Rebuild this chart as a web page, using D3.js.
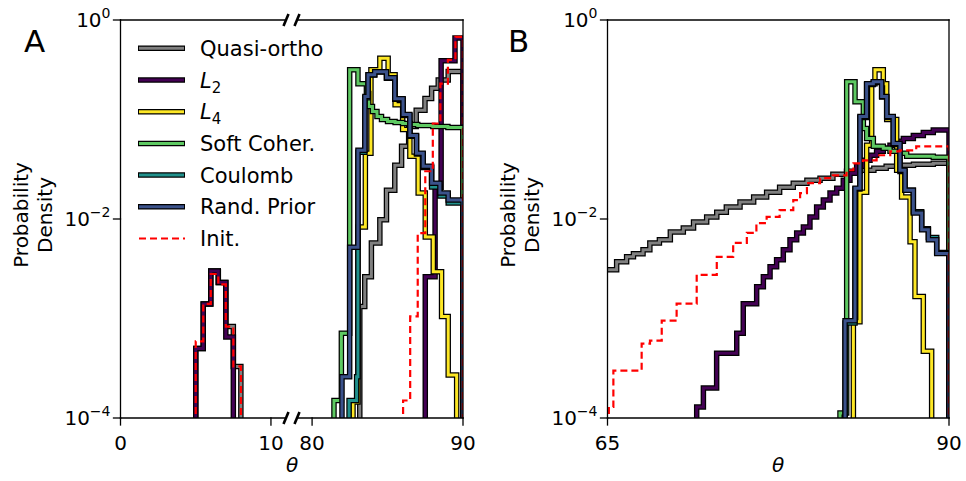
<!DOCTYPE html>
<html><head><meta charset="utf-8">
<script src="https://cdn.jsdelivr.net/npm/d3@7"></script>
<style>body{margin:0;background:#fff}svg{display:block}text{font-family:"DejaVu Sans",sans-serif;fill:#000}</style>
</head><body><svg id="c" width="966" height="481"></svg>
<script>
// ---------------- DATA ----------------
const seriesNames = ["Quasi-ortho","L2","L4","Soft Coher.","Coulomb","Rand. Prior","Init."];
const yTicks = [1, 1e-2, 1e-4];
const yTickExp = ["0","\u22122","\u22124"];
const xTicksAL = [0, 10];
const xTicksAR = [80, 90];
const xTicksB = [65, 90];

// Panel A, left part (theta 0..11)
const edgesAL = [5.0,5.5,6.0,6.5,7.0,7.5,8.0];
const quasiAL = [5.0e-4,1.4e-3,3.0e-3,2.3e-3,8.3e-4,3.3e-4];
const l2AL    = [5.0e-4,1.4e-3,3.0e-3,2.3e-3,6.5e-4,0];
const initAL  = [5.9e-4,1.4e-3,2.8e-3,2.2e-3,8.3e-4,3.3e-4];

// Panel A, right part (theta 79..90)
const quasiAR_e = [83.16,83.49,83.93,84.49,84.93,85.48,85.93,86.4,86.9,87.48,87.92,88.36,89.02,90];
const quasiAR_v = [1.32e-3,2.63e-3,5.75e-3,9.8e-3,0.0195,0.0347,0.0537,0.0851,0.124,0.163,0.206,0.249,0.303];
const l2AR_e = [87.5,88.15,88.55,89.47,90];
const l2AR_v = [2.63e-3,0.0209,0.39,0.66];
const l4AR_e = [82.71,83.04,83.53,83.9,84.49,85.04,85.5,86.0,86.48,87.03,87.5,88.03,88.58,89.02,89.58];
const l4AR_v = [1.45e-4,8.3e-3,0.0457,0.316,0.412,0.282,0.141,0.0794,0.0427,0.0182,6.6e-3,2.95e-3,1.05e-3,2.7e-4];
const softAR_e = [81.45,81.94,82.49,83.04,83.6,83.75,84.0,84.3,84.6,85.0,85.5,86,86.5,87,87.5,88,88.5,89,89.5,90];
const softAR_v = [1.5e-4,7.1e-4,0.316,0.229,0.182,0.135,0.120,0.107,0.1,0.0955,0.0933,0.0912,0.0891,0.087,0.087,0.0851,0.0851,0.0832,0.0832];
const coulAR_e = [82.45,82.95,83.04,83.5,83.71,84.15,84.93,85.48,86.03,86.48,86.92,87.36,87.92,88.47,89.02,90];
const coulAR_v = [1.5e-4,2.6e-4,0.047,0.165,0.28,0.30,0.26,0.16,0.11,0.068,0.045,0.033,0.021,0.017,0.0145];
const randAR_e = [81.98,82.49,83.04,83.5,83.71,84.15,84.93,85.48,86.03,86.48,86.92,87.36,87.92,88.47,89.02,90];
const randAR_v = [2.6e-4,5.2e-3,0.049,0.170,0.282,0.302,0.263,0.162,0.112,0.0692,0.0457,0.0339,0.0229,0.0182,0.0155];
const initAR_e = [86.03,86.5,87.0,87.5,88.0,88.5,89.0,89.5,90];
const initAR_v = [1.5e-4,1.05e-3,7.2e-3,0.0302,0.0912,0.229,0.398,0.676];

// Panel B (theta 65..90)
const quasiB_e = [64.5,65.67,66.4,66.9,67.6,68.1,68.8,69.6,70.55,71.3,72.26,73.0,73.7,74.7,75.7,76.65,77.6,78.6,79.6,80.56,81.5,82.5,83.5,84.5,85.4,86.4,87.4,88.85,90];
const quasiB_v = [3.09e-3,3.72e-3,4.17e-3,4.47e-3,4.9e-3,5.75e-3,6.17e-3,7.41e-3,8.13e-3,9.33e-3,0.0105,0.0117,0.0132,0.0148,0.0166,0.0186,0.0209,0.0229,0.0245,0.0257,0.0282,0.0302,0.0309,0.0324,0.0339,0.0347,0.0355,0.0363];
const l2B_e = [71.53,72.02,72.99,74.46,74.94,75.92,76.41,76.9,77.38,77.87,78.36,78.85,79.34,79.82,80.31,80.8,81.29,81.78,82.26,82.75,83.24,83.73,84.22,84.7,85.19,85.68,86.17,86.66,87.39,88.12,88.85,90];
const l2B_v = [1.29e-4,2.0e-4,4.47e-4,7.1e-4,1.41e-3,2.09e-3,2.63e-3,3.31e-3,3.89e-3,4.9e-3,6.17e-3,7.24e-3,8.3e-3,0.0105,0.0132,0.0155,0.0182,0.0204,0.0245,0.0288,0.0339,0.0389,0.0437,0.0479,0.0513,0.055,0.0603,0.0646,0.0692,0.0741,0.0785];
const l4B_e = [83.0,83.48,83.97,84.34,84.58,85.19,85.44,86.17,86.53,87.15,87.51,88.12,88.73];
const l4B_v = [9.3e-4,0.0186,0.055,0.229,0.316,0.229,0.1,0.0309,0.0166,5.9e-3,1.66e-3,4.7e-4];
const softB_e = [82.02,82.51,83.12,83.73,83.97,84.46,85.19,85.68,86.41,86.9,88.85,90];
const softB_v = [1.12e-4,0.24,0.151,0.0813,0.0646,0.0537,0.0513,0.0479,0.0457,0.0427,0.0417];
const coulB_e = [82.39,83.12,83.48,83.97,84.46,85.07,85.44,85.92,86.41,86.78,87.39,88.0,88.49,89.1,90];
const coulB_v = [9.0e-4,0.02,0.105,0.225,0.236,0.168,0.105,0.056,0.030,0.0195,0.0118,8.0e-3,6.5e-3,4.6e-3];
const randB_e = [82.39,83.12,83.48,83.97,84.46,85.07,85.44,85.92,86.41,86.78,87.39,88.0,88.49,89.1,90];
const randB_v = [9.5e-4,0.0204,0.107,0.229,0.240,0.170,0.107,0.0575,0.0309,0.0195,0.0115,7.8e-3,6.2e-3,4.5e-3];
const initB_e = [65.1,65.43,67.5,68.11,68.97,70.06,71.53,73.0,74.2,75.2,75.9,76.65,77.6,78.6,79.1,79.6,80.56,81.5,82.5,83.0,83.7,84.7,85.7,86.4,87.6,88.85,90];
const initB_v = [1.29e-4,3.0e-4,5.6e-4,6.0e-4,9.5e-4,1.41e-3,2.75e-3,4.17e-3,5.75e-3,7.24e-3,9.1e-3,0.0105,0.0123,0.0155,0.0182,0.0229,0.0257,0.0275,0.0309,0.0363,0.0389,0.0437,0.0479,0.049,0.0537,0.0537];

// ---------------- STYLE ----------------
const colors = {"Quasi-ortho":"#808080","L2":"#440154","L4":"#fde725","Soft Coher.":"#5ec962","Coulomb":"#21918c","Rand. Prior":"#3b528b","Init.":"#ff0000"};

const svg = d3.select("#c");
const yTop = 20, yBot = 418;
const yS = d3.scaleLog().domain([1e-4,1]).range([yBot,yTop]);
const xAL = d3.scaleLinear().domain([0,11]).range([120.5,286]);
const xAR = d3.scaleLinear().domain([79,90]).range([297,463]);
const xB  = d3.scaleLinear().domain([65,90]).range([607.5,949]);

function clip(id, x0, x1){
  svg.append("clipPath").attr("id",id).append("rect")
    .attr("x",x0).attr("y",yTop).attr("width",x1-x0).attr("height",yBot-yTop);
}
clip("cAL",120.5,286); clip("cAR",297,463); clip("cB",607.5,949);

function stairPath(edges, vals, x){
  const base = 700, pts = [[x(edges[0]), base]];
  vals.forEach((v,i)=>{
    const y = v>0 ? yS(v) : base;
    pts.push([x(edges[i]),y],[x(edges[i+1]),y]);
  });
  pts.push([x(edges[edges.length-1]), base]);
  return d3.line()(pts);
}
function drawSeries(g, name, edges, vals, x){
  const d = stairPath(edges, vals, x);
  if(name==="Init."){
    g.append("path").attr("d",d).attr("fill","none").attr("stroke",colors[name])
      .attr("stroke-width",2.2).attr("stroke-dasharray","7,4");
  } else {
    g.append("path").attr("d",d).attr("fill","none").attr("stroke","#000")
      .attr("stroke-width",5.5).attr("stroke-linejoin","miter");
    g.append("path").attr("d",d).attr("fill","none").attr("stroke",colors[name])
      .attr("stroke-width",3).attr("stroke-linejoin","miter");
  }
}

// Panel A left
const gAL = svg.append("g").attr("clip-path","url(#cAL)");
drawSeries(gAL,"Quasi-ortho",edgesAL,quasiAL,xAL);
drawSeries(gAL,"L2",edgesAL,l2AL,xAL);
drawSeries(gAL,"Init.",edgesAL,initAL,xAL);
// Panel A right
const gAR = svg.append("g").attr("clip-path","url(#cAR)");
drawSeries(gAR,"Quasi-ortho",quasiAR_e,quasiAR_v,xAR);
drawSeries(gAR,"L2",l2AR_e,l2AR_v,xAR);
drawSeries(gAR,"L4",l4AR_e,l4AR_v,xAR);
drawSeries(gAR,"Soft Coher.",softAR_e,softAR_v,xAR);
drawSeries(gAR,"Coulomb",coulAR_e,coulAR_v,xAR);
drawSeries(gAR,"Rand. Prior",randAR_e,randAR_v,xAR);
drawSeries(gAR,"Init.",initAR_e,initAR_v,xAR);
// Panel B
const gB = svg.append("g").attr("clip-path","url(#cB)");
drawSeries(gB,"Quasi-ortho",quasiB_e,quasiB_v,xB);
drawSeries(gB,"L2",l2B_e,l2B_v,xB);
drawSeries(gB,"L4",l4B_e,l4B_v,xB);
drawSeries(gB,"Soft Coher.",softB_e,softB_v,xB);
drawSeries(gB,"Coulomb",coulB_e,coulB_v,xB);
drawSeries(gB,"Rand. Prior",randB_e,randB_v,xB);
drawSeries(gB,"Init.",initB_e,initB_v,xB);

// ---------------- AXES ----------------
const sw = 1.3;
function line(x1,y1,x2,y2,w){ svg.append("line").attr("x1",x1).attr("y1",y1).attr("x2",x2).attr("y2",y2).attr("stroke","#000").attr("stroke-width",w||sw).attr("stroke-linecap","square"); }
line(120.5,yTop,120.5,yBot); line(120.5,yTop,286,yTop); line(120.5,yBot,286,yBot);
line(297,yTop,463,yTop); line(297,yBot,463,yBot); line(463,yTop,463,yBot);
line(607.5,yTop,607.5,yBot); line(949,yTop,949,yBot); line(607.5,yTop,949,yTop); line(607.5,yBot,949,yBot);
[286,297].forEach(x=>[yTop,yBot].forEach(y=>{
  svg.append("line").attr("x1",x-2.5).attr("y1",y+6).attr("x2",x+2.5).attr("y2",y-6)
    .attr("stroke","#000").attr("stroke-width",2.6);
}));

function yAxis(x0){
  yTicks.forEach((t,i)=>{
    const y = yS(t);
    line(x0-7,y,x0,y);
    const tx = svg.append("text").attr("x",x0-10).attr("y",y+7).attr("text-anchor","end").attr("font-size",20);
    tx.append("tspan").text("10");
    tx.append("tspan").attr("dy",-9).attr("font-size",14).text(yTickExp[i]);
  });
}
yAxis(120.5); yAxis(607.5);
function xTicks(vals, sc){
  vals.forEach(v=>{
    const x = sc(v);
    line(x,yBot,x,yBot+7);
    svg.append("text").attr("x",x).attr("y",450).attr("text-anchor","middle").attr("font-size",20).text(v);
  });
}
xTicks(xTicksAL,xAL); xTicks(xTicksAR,xAR); xTicks(xTicksB,xB);

function thetaLabel(x){ svg.append("text").attr("x",x).attr("y",472).attr("text-anchor","middle").attr("font-size",20).attr("font-style","italic").text("\u03b8"); }
thetaLabel(292); thetaLabel(778);
function yLabel(x0){
  const cy = 215;
  svg.append("text").attr("transform",`translate(${x0-100},${cy}) rotate(-90)`).attr("text-anchor","middle").attr("dy","0.35em").attr("font-size",20).text("Probability");
  svg.append("text").attr("transform",`translate(${x0-76},${cy}) rotate(-90)`).attr("text-anchor","middle").attr("dy","0.35em").attr("font-size",20).text("Density");
}
yLabel(120.5); yLabel(607.5);
svg.append("text").attr("x",24).attr("y",52).attr("font-size",31).text("A");
svg.append("text").attr("x",508).attr("y",52).attr("font-size",31).text("B");

// ---------------- LEGEND ----------------
const lg = svg.append("g");
seriesNames.forEach((n,i)=>{
  const y = 48.3 + i*31.7;
  if(n==="Init."){
    lg.append("line").attr("x1",139).attr("x2",185).attr("y1",y).attr("y2",y).attr("stroke",colors[n]).attr("stroke-width",2.2).attr("stroke-dasharray","7,4");
  } else {
    lg.append("line").attr("x1",138).attr("x2",185).attr("y1",y).attr("y2",y).attr("stroke","#000").attr("stroke-width",5.5);
    lg.append("line").attr("x1",139).attr("x2",184).attr("y1",y).attr("y2",y).attr("stroke",colors[n]).attr("stroke-width",3);
  }
  const t = lg.append("text").attr("x",200).attr("y",y).attr("dy","0.36em").attr("font-size",21);
  if(n==="L2"||n==="L4"){
    t.append("tspan").attr("font-style","italic").text("L");
    t.append("tspan").attr("dy",5).attr("font-size",15).text(n[1]);
  } else t.text(n);
});
</script></body></html>
